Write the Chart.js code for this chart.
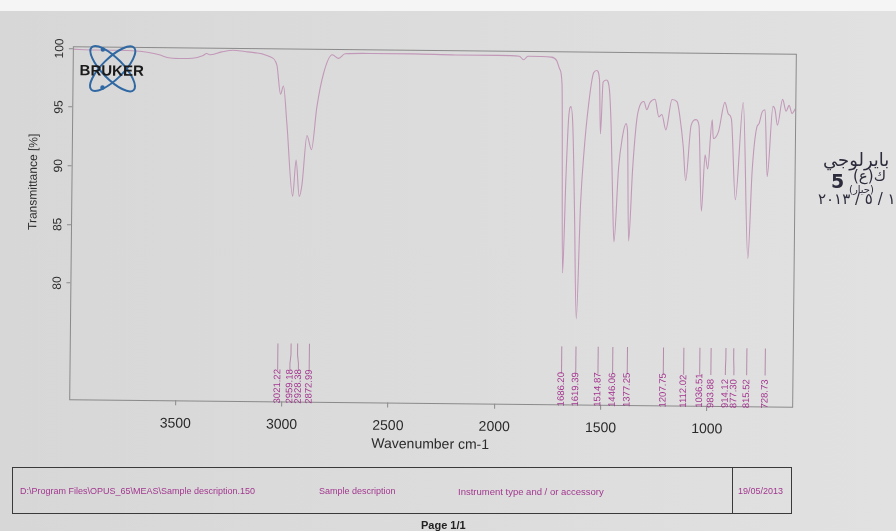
<!DOCTYPE html>
<html>
<head>
<meta charset="utf-8">
<script src="https://cdn.jsdelivr.net/npm/chart.js@4/dist/chart.umd.min.js"></script>
<style>
  html,body{margin:0;padding:0;}
  body{width:896px;height:531px;overflow:hidden;position:relative;
       background:linear-gradient(90deg,#d7d7d7 0%,#dcdcdc 50%,#e1e1e1 100%);
       font-family:"Liberation Sans",Arial,sans-serif;}
  #topband{position:absolute;left:0;top:0;width:896px;height:11px;background:#f5f5f5;}
  canvas{position:absolute;left:0;top:0;}
  .hw{position:absolute;color:#2c2c3c;font-family:"DejaVu Sans",sans-serif;white-space:nowrap;line-height:1;}
  #footer{position:absolute;left:12px;top:467px;width:778px;height:45px;border:1.5px solid #3a3a3a;}
  #footer .div{position:absolute;left:719px;top:0;width:0;height:45px;border-left:1.5px solid #3a3a3a;}
  #footer span{position:absolute;top:18px;font-size:9px;color:#a2378f;white-space:nowrap;}
  #page{position:absolute;left:421px;top:519px;font-size:11px;font-weight:bold;color:#222;}
</style>
</head>
<body>
<div id="topband"></div>
<canvas id="c" width="896" height="531"></canvas>
<div id="footer">
  <span style="left:7px;">D:\Program Files\OPUS_65\MEAS\Sample description.150</span>
  <span style="left:306px;">Sample description</span>
  <span style="left:445px;font-size:9.5px;">Instrument type and / or accessory</span>
  <div class="div"></div>
  <span style="left:725px;">19/05/2013</span>
</div>
<div id="page">Page 1/1</div>

<div class="hw" style="left:823px;top:151px;font-size:18px;">بايرلوجي</div>
<div class="hw" style="left:831px;top:172px;font-size:19px;font-weight:bold;">5</div>
<div class="hw" style="left:853px;top:169px;font-size:15px;">ك(ع)</div>
<div class="hw" style="left:849px;top:185px;font-size:10px;">(حيار)</div>
<div class="hw" style="left:818px;top:192px;font-size:15px;direction:ltr;unicode-bidi:bidi-override;">٢٠١٣ / ٥ / ١٩</div>

<script>
/* ---------- data ---------- */
const wavenumbers = [
  4000, 3900, 3800, 3700, 3650, 3593, 3550, 3500, 3437, 3390, 3370, 3356, 3300, 3247, 3191, 3140, 3106, 3075, 3040,
  3021.22, 3008, 2990, 2959.18, 2945, 2928.38, 2916, 2895, 2872.99, 2850, 2820, 2780, 2750, 2720, 2600, 2400, 2200,
  2000, 1900, 1880, 1860, 1750, 1724, 1710, 1698,
  1686.20, 1675, 1665, 1655, 1645, 1633, 1619.39, 1605, 1592, 1572, 1550, 1535, 1522, 1514.87, 1505, 1490, 1475,
  1465, 1455, 1446.06, 1428, 1412, 1395, 1388, 1377.25, 1362, 1345, 1330, 1312, 1298, 1284, 1260, 1241, 1227,
  1207.75, 1180, 1156, 1142, 1125, 1112.02, 1089, 1066, 1052, 1036.51, 1022, 1009, 990, 983.88, 960, 931,
  914.12, 900, 877.30, 845, 815.52, 800, 780, 770, 756, 742, 728.73, 705, 695, 683, 660, 643, 629, 615, 600
];
const transmittance = [
  99.95, 99.9, 99.9, 99.85, 99.75, 99.55, 99.3, 99.25, 99.28, 99.5, 99.7, 99.6, 99.85, 100.0, 99.9, 99.8, 99.7, 99.5, 98.8,
  96.3, 97.0, 93.8, 87.6, 90.7, 87.6, 88.6, 92.8, 91.6, 95.2, 98.1, 99.7, 99.4, 99.8, 99.85, 99.85, 99.8,
  99.8, 99.75, 99.45, 99.75, 99.7, 99.4, 98.7, 97.4,
  81.3, 89.5, 94.6, 95.5, 93.8, 86.5, 77.4, 87.2, 91.5, 95.7, 98.4, 98.6, 97.8, 93.2, 97.6, 97.8, 97.0,
  93.8, 88.0, 84.0, 90.3, 92.9, 94.1, 93.5, 84.1, 90.2, 94.4, 95.7, 96.0, 95.3, 95.9, 96.2, 94.7, 94.9,
  93.6, 96.2, 96.0, 94.7, 92.2, 89.3, 94.0, 94.5, 94.0, 86.7, 91.5, 90.3, 94.5, 92.9, 93.5, 96.0,
  95.0, 94.6, 87.7, 96.0, 82.7, 90.1, 93.9, 94.2, 95.2, 95.4, 89.7, 95.7, 95.4, 94.1, 96.3, 95.3, 95.8, 95.1, 95.5
];
const peakWavenumbers = [3021.22, 2959.18, 2928.38, 2872.99, 1686.20, 1619.39, 1514.87, 1446.06, 1377.25,
  1207.75, 1112.02, 1036.51, 983.88, 914.12, 877.30, 815.52, 728.73];
const xTicks = [3500, 3000, 2500, 2000, 1500, 1000];
const yTicks = [80, 85, 90, 95, 100];

Chart.defaults.font.family = '"Liberation Sans", Arial, sans-serif';

/* spread crowded peak labels apart, keeping clusters centred */
function spread(p, gap){
  const l = p.slice();
  for (let k = 0; k < 200; k++){
    for (let i = 1; i < l.length; i++){
      const d = l[i] - l[i-1];
      if (d < gap){ const m = (gap - d) / 2; l[i] += m; l[i-1] -= m; }
    }
  }
  return l;
}

/* the printout was photographed slightly askew */
const tilt = {
  id: 'tilt',
  beforeDraw(chart){
    const ctx = chart.ctx;
    ctx.save();
    ctx.translate(431, 229); ctx.rotate(0.6 * Math.PI / 180); ctx.translate(-430, -226);
  },
  afterDraw(chart){ chart.ctx.restore(); }
};

const decor = {
  id: 'decor',
  afterDatasetsDraw(chart){
    const {ctx, chartArea: a, scales: {x, y}} = chart;
    ctx.save();
    // frame
    ctx.strokeStyle = '#8a8a8a'; ctx.lineWidth = 1;
    ctx.strokeRect(Math.round(a.left) + 0.5, Math.round(a.top) + 0.5, Math.round(a.right - a.left), Math.round(a.bottom - a.top));

    // y tick labels, rotated
    ctx.fillStyle = '#2e2e2e'; ctx.font = '12px "Liberation Sans"';
    ctx.textAlign = 'center'; ctx.textBaseline = 'middle';
    yTicks.forEach(v => {
      ctx.save(); ctx.translate(57, y.getPixelForValue(v)); ctx.rotate(-Math.PI/2);
      ctx.fillText(String(v), 0, 0); ctx.restore();
    });
    ctx.save(); ctx.translate(32, 183); ctx.rotate(-Math.PI/2);
    ctx.fillText('Transmittance [%]', 0, 0); ctx.restore();

    // peak markers
    const px = peakWavenumbers.map(w => x.getPixelForValue(w));
    const lx = spread(px, 8.5);
    ctx.strokeStyle = '#b48aa8'; ctx.lineWidth = 1;
    ctx.fillStyle = '#a3358f'; ctx.font = '9.5px "Liberation Sans"';
    ctx.textAlign = 'left'; ctx.textBaseline = 'middle';
    px.forEach((p, i) => {
      ctx.beginPath();
      ctx.moveTo(p, 342); ctx.lineTo(p, 353); ctx.lineTo(lx[i], 362); ctx.lineTo(lx[i], 369);
      ctx.stroke();
      ctx.save(); ctx.translate(lx[i], 402); ctx.rotate(-Math.PI/2);
      ctx.fillText(peakWavenumbers[i].toFixed(2), 0, 0); ctx.restore();
    });

    // Bruker logo
    ctx.strokeStyle = '#2f68a3'; ctx.lineWidth = 2;
    ctx.beginPath(); ctx.ellipse(110, 69, 30, 10.5, Math.PI/4, 0, Math.PI*2); ctx.stroke();
    ctx.beginPath(); ctx.ellipse(110, 69, 30, 10.5, -Math.PI/4, 0, Math.PI*2); ctx.stroke();
    ctx.fillStyle = '#2f68a3';
    [[100, 50], [100, 88]].forEach(([cx, cy]) => { ctx.beginPath(); ctx.arc(cx, cy, 2.2, 0, Math.PI*2); ctx.fill(); });
    ctx.fillStyle = '#1a1a1a'; ctx.font = 'bold 15px "Liberation Sans"';
    ctx.textAlign = 'left'; ctx.textBaseline = 'alphabetic';
    ctx.fillText('BRUKER', 77, 76);
    ctx.restore();
  }
};

new Chart(document.getElementById('c'), {
  type: 'line',
  data: {
    datasets: [{
      data: wavenumbers.map((w, i) => ({x: w, y: transmittance[i]})),
      borderColor: '#c298b8',
      borderWidth: 1.1,
      pointRadius: 0,
      cubicInterpolationMode: 'monotone',
      fill: false
    }]
  },
  options: {
    responsive: false,
    devicePixelRatio: 1,
    animation: false,
    layout: {padding: {left: 20, right: 103, top: 47, bottom: 81}},
    plugins: {legend: {display: false}, tooltip: {enabled: false}},
    scales: {
      x: {
        type: 'linear', reverse: true, min: 600, max: 4000,
        afterBuildTicks: s => { s.ticks = xTicks.map(v => ({value: v})); },
        afterFit: s => { s.height = 50; },
        border: {display: false},
        grid: {drawOnChartArea: false, drawTicks: true, tickLength: 5, color: '#8a8a8a'},
        ticks: {color: '#2a2a2a', font: {size: 14}, padding: 10, maxRotation: 0, callback: v => String(v)},
        title: {display: true, text: 'Wavenumber cm-1', color: '#2a2a2a', font: {size: 14}, padding: {top: 0, bottom: 0}}
      },
      y: {
        min: 70.1, max: 100.2,
        afterBuildTicks: s => { s.ticks = yTicks.map(v => ({value: v})); },
        afterFit: s => { s.width = 50; },
        border: {display: false},
        grid: {drawOnChartArea: false, drawTicks: true, tickLength: 4, color: '#8a8a8a'},
        ticks: {display: false}
      }
    }
  },
  plugins: [tilt, decor]
});
</script>
</body>
</html>
